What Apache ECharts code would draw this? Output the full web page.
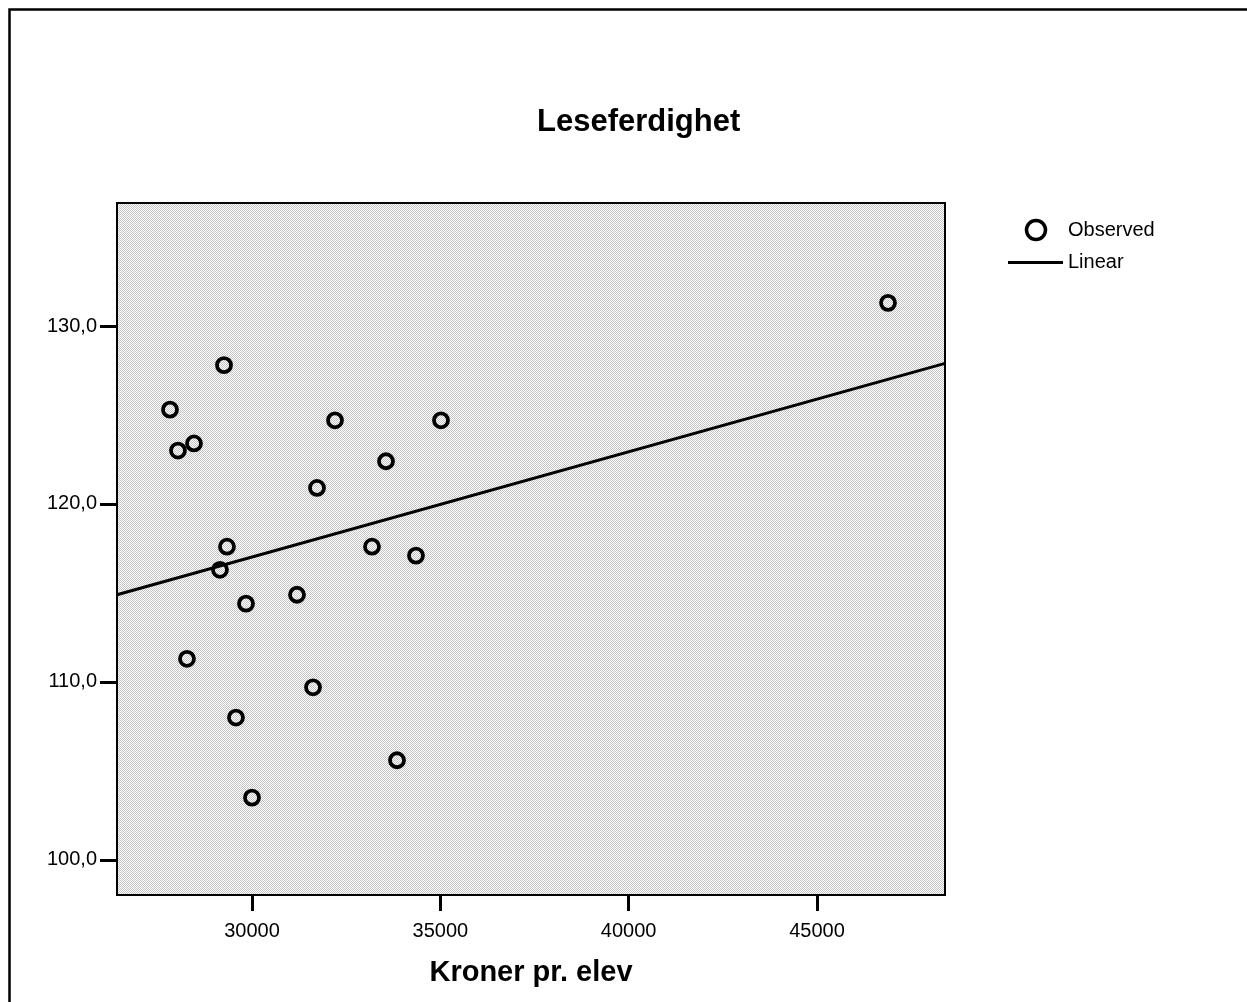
<!DOCTYPE html>
<html>
<head>
<meta charset="utf-8">
<script src="https://cdn.jsdelivr.net/npm/echarts@6/dist/echarts.min.js"></script>
<style>html,body{margin:0;padding:0;background:#fff}#c{width:1247px;height:1002px}</style>
</head>
<body>
<div id="c"></div>
<script>
// Observed points: [Kroner pr. elev, Leseferdighet]
const kroner = [27823, 28035, 28460, 29257, 28274, 29150, 29336, 29841, 29575, 30000,
                31195, 31620, 31726, 32204, 33186, 33558, 33850, 34354, 35018, 46886];
const lese   = [125.3, 123.0, 123.4, 127.8, 111.3, 116.3, 117.6, 114.4, 108.0, 103.5,
                114.9, 109.7, 120.9, 124.7, 117.6, 122.4, 105.6, 117.1, 124.7, 131.3];
// Linear fit line endpoints (at axis limits)
const linearX = [26416, 48399];
const linearY = [114.9, 127.9];
const xTicks = [30000, 35000, 40000, 45000];
const yTicks = [100, 110, 120, 130];
const xRange = [26416, 48399];
const yRange = [98.03, 136.91];

const FONT = '"Liberation Sans", Arial, sans-serif';

const cv = document.createElement('canvas');
cv.width = 2; cv.height = 2;
const cx = cv.getContext('2d');
cx.fillStyle = '#ffffff'; cx.fillRect(0, 0, 2, 2);
cx.fillStyle = '#c4c4c4'; cx.fillRect(0, 0, 1, 1); cx.fillRect(1, 1, 1, 1);

const chart = echarts.init(document.getElementById('c'), null, {renderer: 'canvas'});
chart.setOption({
  animation: false,
  backgroundColor: '#ffffff',
  title: {
    text: 'Leseferdighet', left: 532, top: 102,
    textStyle: {fontFamily: FONT, fontSize: 31, fontWeight: 'bold', color: '#000'}
  },
  grid: {
    left: 117, top: 203, width: 828, height: 692,
    outerBoundsMode: 'none', containLabel: false,
    show: true, backgroundColor: {image: cv, repeat: 'repeat'},
    borderColor: '#000', borderWidth: 2
  },
  xAxis: {
    type: 'value', min: xRange[0], max: xRange[1],
    name: 'Kroner pr. elev', nameLocation: 'middle', nameGap: 63,
    nameTextStyle: {fontFamily: FONT, fontSize: 29, fontWeight: 'bold', color: '#000'},
    axisLine: {show: true, onZero: false, lineStyle: {color: '#000', width: 2}},
    axisTick: {show: true, length: 16, lineStyle: {color: '#000', width: 3}, customValues: xTicks},
    axisLabel: {customValues: xTicks, margin: 26, fontFamily: FONT, fontSize: 20, color: '#000',
                formatter: v => String(v)},
    splitLine: {show: false}
  },
  yAxis: {
    type: 'value', min: yRange[0], max: yRange[1],
    axisLine: {show: true, onZero: false, lineStyle: {color: '#000', width: 2}},
    axisTick: {show: true, length: 17, lineStyle: {color: '#000', width: 3}, customValues: yTicks},
    axisLabel: {customValues: yTicks, margin: 20, fontFamily: FONT, fontSize: 20, color: '#000',
                formatter: v => v.toFixed(1).replace('.', ',')},
    splitLine: {show: false}
  },
  series: [
    {
      type: 'line', name: 'Linear',
      data: linearX.map((x, i) => [x, linearY[i]]),
      symbol: 'none', lineStyle: {color: '#000', width: 3}, z: 2
    },
    {
      type: 'scatter', name: 'Observed',
      data: kroner.map((x, i) => [x, lese[i]]),
      symbol: 'circle', symbolSize: 14,
      itemStyle: {color: 'rgba(0,0,0,0)', borderColor: '#000', borderWidth: 3.8, opacity: 1}, z: 3
    }
  ],
  graphic: [
    {type: 'rect', shape: {x: 9.5, y: 9.5, width: 1300, height: 1100},
     style: {fill: 'none', stroke: '#000', lineWidth: 2.5}, silent: true},
    {type: 'circle', shape: {cx: 1036, cy: 230, r: 9.5},
     style: {fill: 'none', stroke: '#000', lineWidth: 3.5}},
    {type: 'text', x: 1068, y: 230,
     style: {text: 'Observed', font: '20px ' + FONT, fill: '#000', verticalAlign: 'middle'}},
    {type: 'line', shape: {x1: 1008, y1: 262.5, x2: 1063, y2: 262.5},
     style: {stroke: '#000', lineWidth: 3}},
    {type: 'text', x: 1068, y: 262,
     style: {text: 'Linear', font: '20px ' + FONT, fill: '#000', verticalAlign: 'middle'}}
  ]
});
</script>
</body>
</html>
